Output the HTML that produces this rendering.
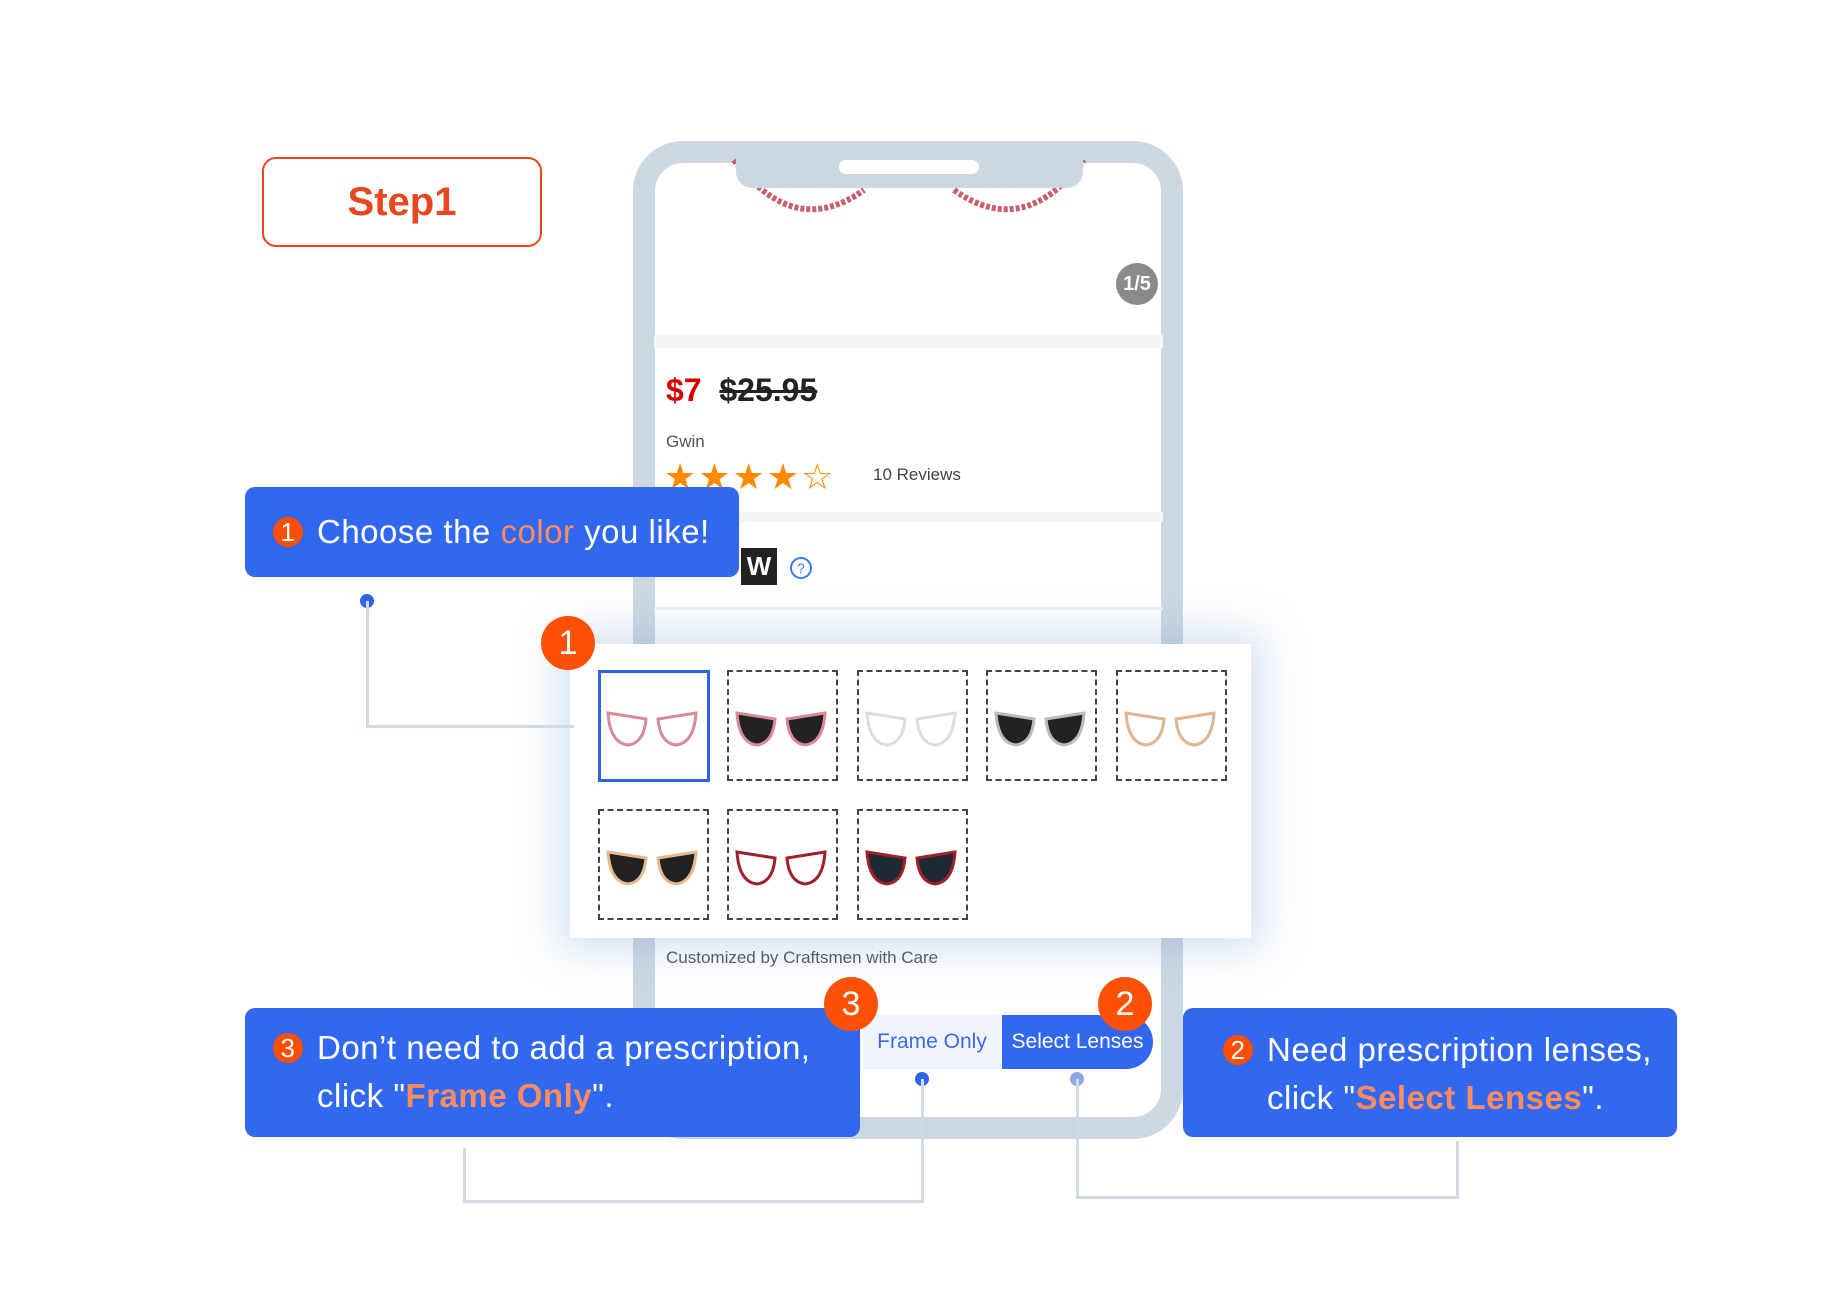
<!DOCTYPE html>
<html><head><meta charset="utf-8"><style>
body{margin:0;width:1840px;height:1302px;background:#fff;position:relative;overflow:hidden;font-family:"Liberation Sans",sans-serif}
.a{position:absolute}
.call{position:absolute;background:#3268ef;border-radius:10px;color:#fff;font-size:33px;line-height:48px;letter-spacing:.5px}
.call .o{color:#ff8c5e;font-weight:bold}
.b{display:inline-block;width:30px;height:30px;border-radius:50%;background:#ff4e00;color:#fff;font-size:26px;line-height:31px;text-align:center;vertical-align:2px;margin-right:14px}
.big{position:absolute;width:54px;height:54px;border-radius:50%;background:#ff5005;color:#fff;font-size:34px;line-height:54px;text-align:center}
.ln{position:absolute;background:#cfdbe4}
.sw{position:absolute;width:107px;height:107px;border:2px dashed #444}
.dot{position:absolute;width:14px;height:14px;border-radius:50%;background:#2f63ea}
</style></head><body>
<div class="a" style="left:262px;top:157px;width:276px;height:86px;border:2px solid #e8461e;border-radius:14px;color:#e8461e;font-weight:bold;font-size:40px;line-height:86px;text-align:center">Step1</div>

<!-- phone -->
<div class="a" style="left:633px;top:141px;width:506px;height:954px;border:22px solid #cbd8e2;border-radius:50px;background:#fff"></div>
<svg class="a" style="left:654px;top:150px" width="510" height="80">
<path d="M80 10 Q140 90 210 40" stroke="#c9606e" stroke-width="6" fill="none" stroke-dasharray="4 2"/>
<path d="M300 40 Q370 90 430 10" stroke="#c9606e" stroke-width="6" fill="none" stroke-dasharray="4 2"/>
</svg>
<div class="a" style="left:736px;top:150px;width:347px;height:38px;background:#cbd8e2;border-radius:0 0 16px 16px"></div>
<div class="a" style="left:839px;top:160px;width:140px;height:14px;background:#fff;border-radius:7px"></div>
<div class="a" style="left:1116px;top:263px;width:42px;height:42px;border-radius:50%;background:#8a8a8a;color:#fff;font-size:20px;line-height:42px;text-align:center;font-weight:bold">1/5</div>
<div class="a" style="left:654px;top:335px;width:509px;height:13px;background:#f3f6f9"></div>
<div class="a" style="left:666px;top:372px;font-size:32px;font-weight:bold"><span style="color:#d60000">$7</span>&nbsp; <span style="text-decoration:line-through;color:#222">$25.95</span></div>
<div class="a" style="left:666px;top:432px;font-size:17px;color:#555">Gwin</div>
<div class="a" style="left:664px;top:456px;font-size:36px;color:#ff8a00;letter-spacing:2px">★★★★☆</div>
<div class="a" style="left:873px;top:465px;font-size:17px;color:#444">10 Reviews</div>
<div class="a" style="left:654px;top:512px;width:509px;height:10px;background:#f3f6f9"></div>
<div class="a" style="left:741px;top:548px;width:36px;height:37px;background:#222;color:#fff;font-weight:bold;font-size:26px;line-height:37px;text-align:center">W</div>
<div class="a" style="left:790px;top:557px;width:18px;height:18px;border:2px solid #3f77e8;border-radius:50%;color:#3f77e8;font-size:14px;line-height:18px;text-align:center">?</div>
<div class="a" style="left:654px;top:607px;width:509px;height:3px;background:#eef1f4"></div>
<div class="a" style="left:666px;top:948px;font-size:17px;color:#555">Customized by Craftsmen with Care</div>
<div class="a" style="left:863px;top:1015px;width:138px;height:54px;background:#f0f4ff;color:#3a6ae8;font-size:21px;line-height:54px;text-align:center">Frame Only</div>
<div class="a" style="left:1002px;top:1015px;width:151px;height:54px;background:#3268ef;border-radius:0 27px 27px 0;color:#fff;font-size:21px;line-height:54px;text-align:center">Select Lenses</div>

<!-- popup -->
<div class="a" style="left:570px;top:644px;width:681px;height:294px;background:#fff;box-shadow:0 0 40px 10px rgba(120,160,210,.35)"></div>
<div class="sw" style="left:598px;top:670px;border:3px solid #2f63ea;width:106px;height:106px"></div>
<div class="sw" style="left:727px;top:670px"></div>
<div class="sw" style="left:857px;top:670px"></div>
<div class="sw" style="left:986px;top:670px"></div>
<div class="sw" style="left:1116px;top:670px"></div>
<div class="sw" style="left:598px;top:809px"></div>
<div class="sw" style="left:727px;top:809px"></div>
<div class="sw" style="left:857px;top:809px"></div>
<svg class="a" style="left:0;top:0" width="1840" height="1302">
<defs><g id="g"><path d="M-44 -12 L-6 -6 Q-8 18 -24 20 Q-42 18 -44 -12Z"/><path d="M44 -12 L6 -6 Q8 18 24 20 Q42 18 44 -12Z"/></g></defs>
<g transform="translate(652,725)" fill="none" stroke="#d98a94" stroke-width="3"><use href="#g"/></g>
<g transform="translate(781,725)" fill="#222" stroke="#d98a94" stroke-width="3"><use href="#g"/></g>
<g transform="translate(911,725)" fill="none" stroke="#ddd" stroke-width="3"><use href="#g"/></g>
<g transform="translate(1040,725)" fill="#222" stroke="#bbb" stroke-width="3"><use href="#g"/></g>
<g transform="translate(1170,725)" fill="none" stroke="#e0b48e" stroke-width="3"><use href="#g"/></g>
<g transform="translate(652,864)" fill="#222" stroke="#e6b890" stroke-width="3"><use href="#g"/></g>
<g transform="translate(781,864)" fill="none" stroke="#a0202a" stroke-width="3"><use href="#g"/></g>
<g transform="translate(911,864)" fill="#1e2a33" stroke="#a0202a" stroke-width="3"><use href="#g"/></g>
</svg>

<!-- callouts -->
<div class="call" style="left:245px;top:487px;width:494px;height:90px;line-height:90px;padding-left:28px;box-sizing:border-box"><span class="b">1</span>Choose the <span class="o" style="font-weight:normal">color</span> you like!</div>
<div class="call" style="left:245px;top:1008px;width:615px;height:129px;padding:16px 0 0 28px;box-sizing:border-box"><span class="b">3</span>Don’t need to add a prescription,<br><span style="margin-left:44px">click "<span class="o">Frame Only</span>".</span></div>
<div class="call" style="left:1183px;top:1008px;width:494px;height:129px;padding:18px 0 0 40px;box-sizing:border-box"><span class="b">2</span>Need prescription lenses,<br><span style="margin-left:44px">click "<span class="o">Select Lenses</span>".</span></div>

<div class="big" style="left:541px;top:616px">1</div>
<div class="big" style="left:824px;top:977px">3</div>
<div class="big" style="left:1098px;top:977px">2</div>

<!-- connectors -->
<div class="dot" style="left:360px;top:594px"></div>
<div class="ln" style="left:366px;top:601px;width:3px;height:127px"></div>
<div class="ln" style="left:366px;top:725px;width:208px;height:3px"></div>
<div class="dot" style="left:915px;top:1072px"></div>
<div class="ln" style="left:921px;top:1079px;width:3px;height:124px"></div>
<div class="ln" style="left:463px;top:1200px;width:461px;height:3px"></div>
<div class="ln" style="left:463px;top:1148px;width:3px;height:55px"></div>
<div class="dot" style="left:1070px;top:1072px;background:#8aa6e6"></div>
<div class="ln" style="left:1076px;top:1079px;width:3px;height:120px"></div>
<div class="ln" style="left:1076px;top:1196px;width:383px;height:3px"></div>
<div class="ln" style="left:1456px;top:1141px;width:3px;height:58px"></div>
</body></html>
